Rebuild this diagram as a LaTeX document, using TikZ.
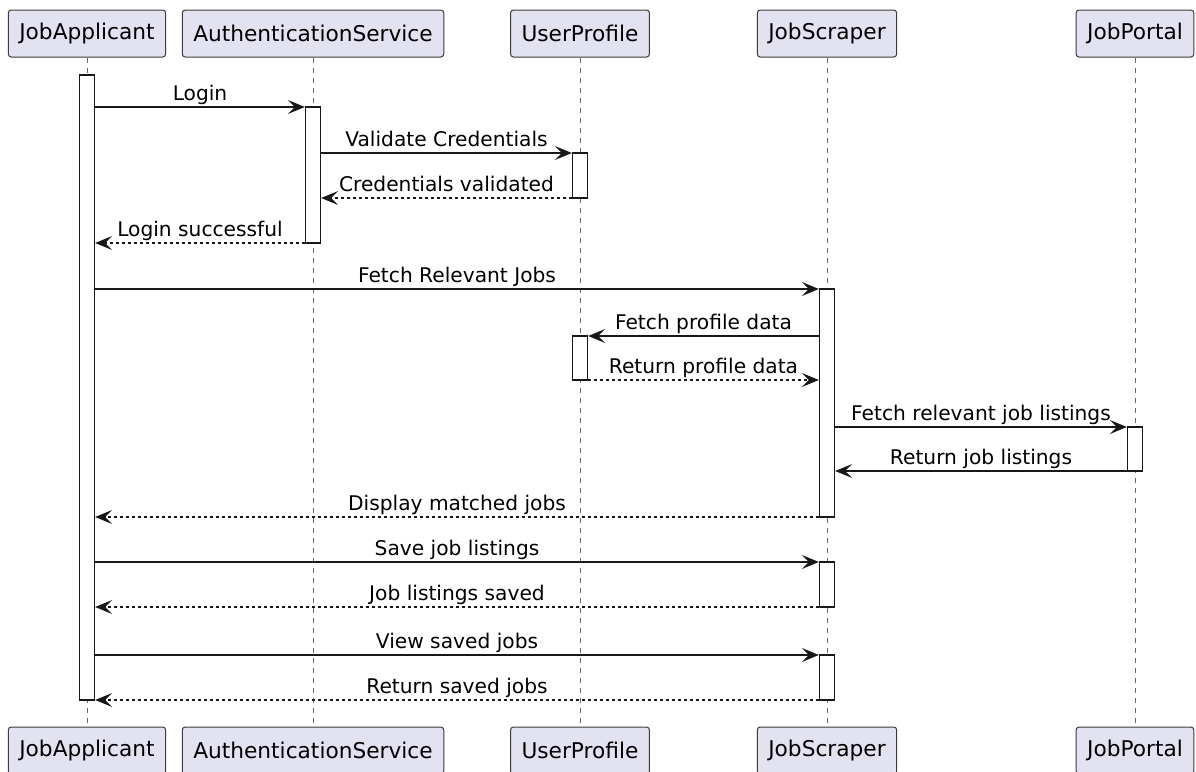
\documentclass[tikz,border=0pt]{standalone}
\usepackage{fontspec}
\setmainfont{DejaVu Sans}
\usetikzlibrary{arrows.meta}
\definecolor{partfill}{HTML}{E2E2F0}
\definecolor{ink}{HTML}{181818}

\begin{document}
\begin{tikzpicture}[x=1pt,y=-1pt,
   part/.style={draw=ink!85,fill=partfill,rounded corners=3pt,line width=1pt,
     minimum height=47pt,inner xsep=11pt,inner ysep=0pt,
     font=\fontsize{21.7}{26}\selectfont},
   life/.style={draw=ink!65,line width=1pt,dash pattern=on 5pt off 5pt},
   actbar/.style={draw=ink,fill=white,line width=1.3pt,minimum width=15pt,inner sep=0pt},
   msg/.style={draw=ink,line width=1.5pt,-{Stealth[length=17pt,width=14pt,inset=7pt]}},
   reply/.style={msg,line width=1.2pt,dash pattern=on 3pt off 3pt},
   lbl/.style={font=\fontsize{20.2}{24}\selectfont,anchor=base,inner sep=0pt,yshift=7pt}]
\useasboundingbox (0,0) rectangle (1196,771);

% participants, top and bottom
\node[part] (pA) at (87,33.5) {JobApplicant};
\node[part] (pS) at (313,33.5) {AuthenticationService};
\node[part] (pU) at (580,33.5) {UserProfile};
\node[part] (pJ) at (827,33.5) {JobScraper};
\node[part] (pP) at (1135,33.5) {JobPortal};
\node[part] (pAb) at (87,750.5) {JobApplicant};
\node[part] (pSb) at (313,750.5) {AuthenticationService};
\node[part] (pUb) at (580,750.5) {UserProfile};
\node[part] (pJb) at (827,750.5) {JobScraper};
\node[part] (pPb) at (1135,750.5) {JobPortal};

\foreach \p in {A,S,U,J,P}
  \draw[life] (p\p.south) -- (p\p b.north);

% activations
\node[actbar,minimum height=625pt] (aA) at (87,387.5) {};
\node[actbar,minimum height=136pt] (aS) at (313,175) {};
\node[actbar,minimum height=45pt] (aU1) at (580,175.5) {};
\node[actbar,minimum height=44pt] (aU2) at (580,358) {};
\node[actbar,minimum height=228pt] (aJ1) at (827,403) {};
\node[actbar,minimum height=45pt] (aJ2) at (827,584.5) {};
\node[actbar,minimum height=45pt] (aJ3) at (827,677.5) {};
\node[actbar,minimum height=44pt] (aP) at (1135,449) {};

% message rows
\coordinate (m1) at (0,107);
\coordinate (m2) at (0,153);
\coordinate (m3) at (0,198);
\coordinate (m4) at (0,243);
\coordinate (m5) at (0,289);
\coordinate (m6) at (0,336);
\coordinate (m7) at (0,380);
\coordinate (m8) at (0,427);
\coordinate (m9) at (0,471);
\coordinate (m10) at (0,517);
\coordinate (m11) at (0,562);
\coordinate (m12) at (0,607);
\coordinate (m13) at (0,655);
\coordinate (m14) at (0,700);

\draw[msg] (aA.east |- m1) -- node[lbl] {Login} (aS.west |- m1);
\draw[msg] (aS.east |- m2) -- node[lbl] {Validate Credentials} (aU1.west |- m2);
\draw[reply] (aU1.west |- m3) -- node[lbl] {Credentials validated} (aS.east |- m3);
\draw[reply] (aS.west |- m4) -- node[lbl] {Login successful} (aA.east |- m4);
\draw[msg] (aA.east |- m5) -- node[lbl] {Fetch Relevant Jobs} (aJ1.west |- m5);
\draw[msg] (aJ1.west |- m6) -- node[lbl] {Fetch profile data} (aU2.east |- m6);
\draw[reply] (aU2.east |- m7) -- node[lbl] {Return profile data} (aJ1.west |- m7);
\draw[msg] (aJ1.east |- m8) -- node[lbl] {Fetch relevant job listings} (aP.west |- m8);
\draw[msg] (aP.west |- m9) -- node[lbl] {Return job listings} (aJ1.east |- m9);
\draw[reply] (aJ1.west |- m10) -- node[lbl] {Display matched jobs} (aA.east |- m10);
\draw[msg] (aA.east |- m11) -- node[lbl] {Save job listings} (aJ2.west |- m11);
\draw[reply] (aJ2.west |- m12) -- node[lbl] {Job listings saved} (aA.east |- m12);
\draw[msg] (aA.east |- m13) -- node[lbl] {View saved jobs} (aJ3.west |- m13);
\draw[reply] (aJ3.west |- m14) -- node[lbl] {Return saved jobs} (aA.east |- m14);
\end{tikzpicture}
\end{document}
